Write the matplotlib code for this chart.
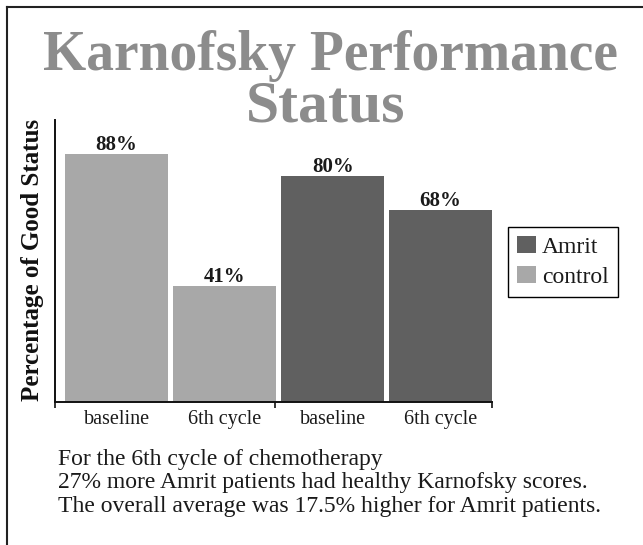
import matplotlib
matplotlib.use("Agg")
import matplotlib.pyplot as plt
from matplotlib.lines import Line2D
from matplotlib.patches import Patch

categories = ["baseline", "6th cycle", "baseline", "6th cycle"]
groups = ["control", "control", "Amrit", "Amrit"]
values = [88, 41, 80, 68]
value_labels = ["88%", "41%", "80%", "68%"]
group_colors = {"control": "#a8a8a8", "Amrit": "#606060"}
legend_order = ["Amrit", "control"]
title_lines = ["Karnofsky Performance", "Status"]
ylabel = "Percentage of Good Status"
footer = [
    "For the 6th cycle of chemotherapy",
    "27% more Amrit patients had healthy Karnofsky scores.",
    "The overall average was 17.5% higher for Amrit patients.",
]

W, H = 643, 545
fig = plt.figure(figsize=(W / 100, H / 100), dpi=100)
fig.patch.set_facecolor("white")
serif = ["Liberation Serif", "DejaVu Serif"]

def fx(px):
    return px / W

def fy(py):
    return 1 - py / H

ax = fig.add_axes([fx(55), fy(402), fx(492) - fx(55), fy(120) - fy(402)])
x = list(range(len(values)))
colors = [group_colors[g] for g in groups]
ax.bar(x, values, width=0.95, color=colors, edgecolor="none")
ax.set_xlim(-0.57, 3.475)
ax.set_ylim(0, 100)

for xi, v, lab in zip(x, values, value_labels):
    ax.annotate(lab, (xi, v), xytext=(0, 3), textcoords="offset points",
                ha="center", va="baseline", fontsize=15, fontweight="bold",
                family=serif, color="#1a1a1a")

for s in ["top", "right"]:
    ax.spines[s].set_visible(False)
for s in ["left", "bottom"]:
    ax.spines[s].set_linewidth(1.4)
    ax.spines[s].set_color("#111111")
ax.set_yticks([])
ax.set_xticks([-0.57, 1.465, 3.475])
ax.set_xticklabels([])
ax.tick_params(axis="x", which="major", length=4.5, width=1.2, color="#111111", direction="out")
ax.set_xticks(x, minor=True)
ax.set_xticklabels(categories, minor=True, fontsize=14.5, family=serif, color="#1a1a1a")
ax.tick_params(axis="x", which="minor", length=0, pad=6)

handles = [Patch(facecolor=group_colors[g], edgecolor="none") for g in legend_order]
leg = fig.legend(handles, legend_order, loc="upper left",
                 bbox_to_anchor=(fx(508), fy(227)), borderaxespad=0,
                 prop={"family": serif, "size": 17}, frameon=True, fancybox=False,
                 framealpha=1, edgecolor="black", handlelength=0.8, handleheight=0.72,
                 handletextpad=0.25, labelspacing=0.35, borderpad=0.4)
leg.get_frame().set_linewidth(1.0)
for t in leg.get_texts():
    t.set_color("#1a1a1a")

fig.text(fx(330), fy(70), title_lines[0], ha="center", va="baseline",
         fontsize=40, fontweight="bold", family=serif, color="#8c8c8c")
fig.text(fx(326), fy(121), title_lines[1], ha="center", va="baseline",
         fontsize=43, fontweight="bold", family=serif, color="#8c8c8c")

fig.text(fx(33), fy(260), ylabel, rotation=90, ha="center", va="center",
         fontsize=18, fontweight="bold", family=serif, color="#111111")

for line, base in zip(footer, [465, 488, 512]):
    fig.text(fx(58), fy(base), line, ha="left", va="baseline",
             fontsize=17, family=serif, color="#1a1a1a")

fig.add_artist(Line2D([fx(7), 1], [fy(7), fy(7)], color="#222222", lw=1.5))
fig.add_artist(Line2D([fx(7), fx(7)], [fy(7), 0], color="#222222", lw=1.5))

fig.savefig("out.png", dpi=100)
